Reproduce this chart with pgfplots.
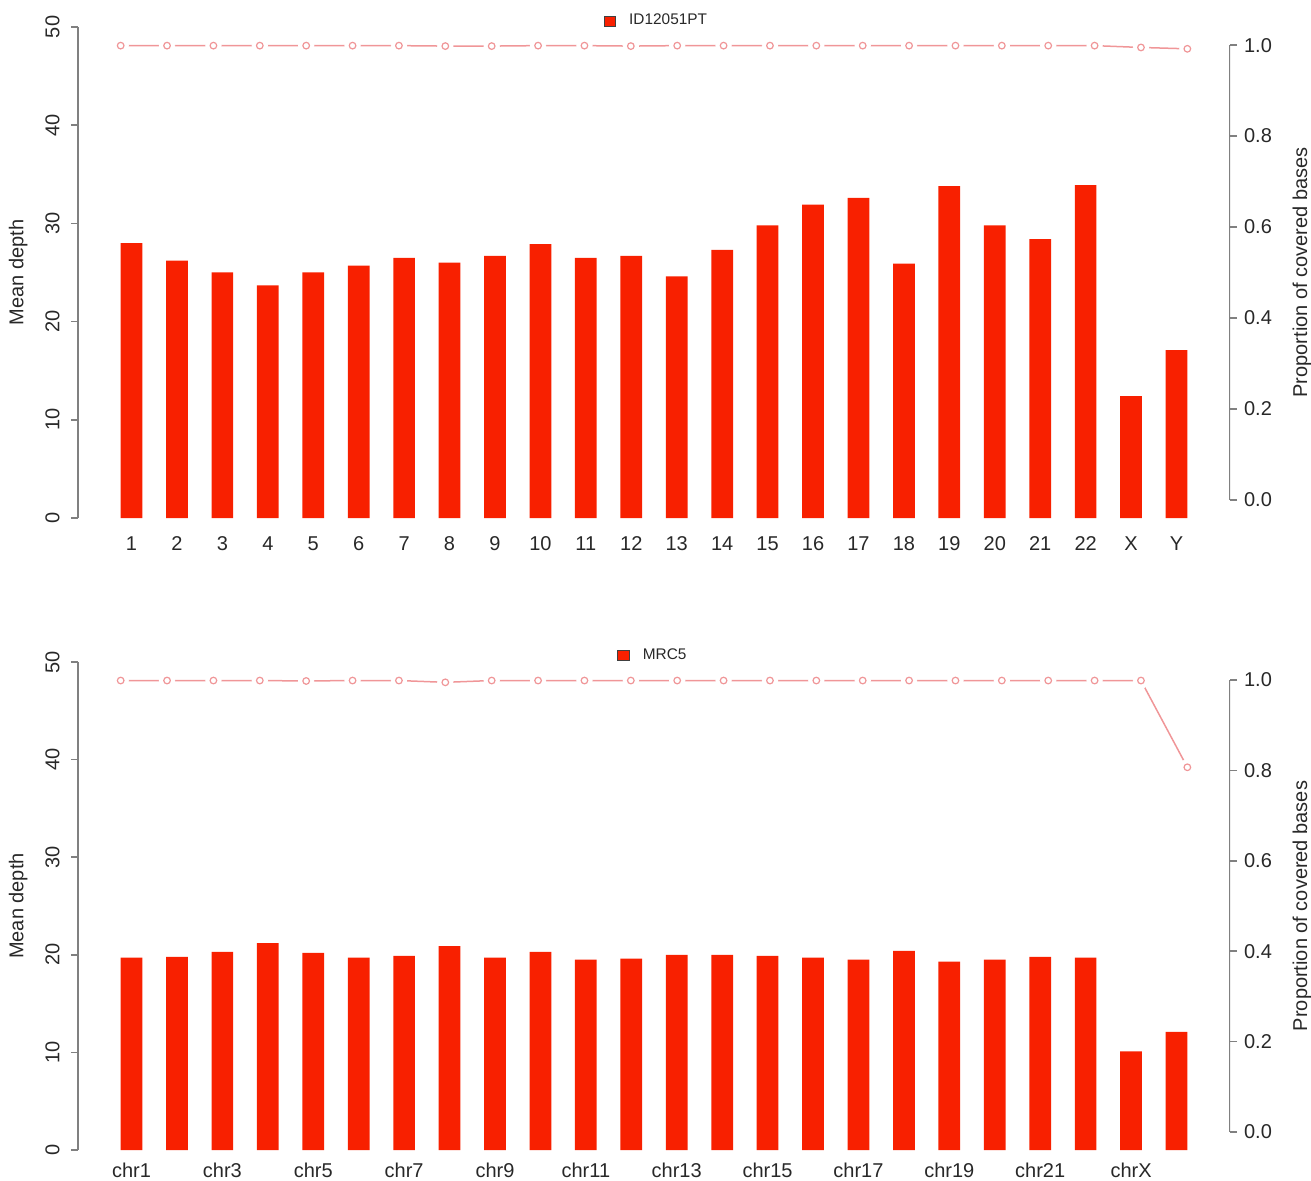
\documentclass[border=0pt]{standalone}
\usepackage{fontspec}
\setmainfont{Liberation Sans}
\usepackage{pgfplots}
\pgfplotsset{compat=1.18}

\definecolor{barred}{RGB}{248,32,0}
\definecolor{linepink}{RGB}{240,150,152}
\definecolor{axgray}{RGB}{128,128,128}
\definecolor{txt}{RGB}{40,40,40}

\pgfplotsset{
  baraxis/.style={
    scale only axis, width=576pt,
    /pgf/number format/assume math mode=true,
    xmin=-1.178, xmax=24.178, ymin=0, ymax=50,
    axis y line*=left, axis x line*=bottom,
    x axis line style={draw=none},
    y axis line style={-, draw=axgray, line width=0.8pt},
    xtick style={draw=none},
    ytick style={draw=axgray, line width=0.8pt},
    tick align=outside, major tick length=3.5pt,
    ytick={0,10,20,30,40,50},
    yticklabels={0,10,20,30,40,50},
    yticklabel style={rotate=90, anchor=south, font=\fontsize{10}{12}\selectfont, text=txt},
    yticklabel shift=2.2pt,
    xticklabel style={font=\fontsize{10}{12}\selectfont, text=txt},
    ylabel={Mean depth},
    every axis y label/.style={at={(axis description cs:-0.052,0.5)}, rotate=90, anchor=center, font=\fontsize{10}{12}\selectfont, text=txt},
    legend style={at={(axis description cs:0.503,1.012)}, anchor=center, draw=none, fill=none, font=\fontsize{7.7}{9}\selectfont, text=txt, inner sep=0pt},
    legend image code/.code={\path[draw=none, fill=none] (0pt,-0.05pt) rectangle (10.5pt,0.05pt);\path[fill=barred, draw=black!75, line width=0.4pt] (0pt,-2.6pt) rectangle (5.6pt,2.6pt);},
  },
  lineaxis/.style={
    scale only axis, width=576pt,
    /pgf/number format/assume math mode=true,
    xmin=0.08, xmax=24.92, ymin=-0.04, ymax=1.04,
    axis x line=none, axis y line*=right,
    y axis line style={draw=none},
    ytick={0,0.2,0.4,0.6,0.8,1},
    yticklabels={0.0,0.2,0.4,0.6,0.8,1.0},
    ytick style={draw=axgray, line width=0.8pt},
    tick align=outside, major tick length=3.5pt,
    yticklabel style={font=\fontsize{10}{12}\selectfont, text=txt},
    ylabel={Proportion of covered bases},
    every axis y label/.style={at={(axis description cs:1.0625,0.5)}, rotate=90, anchor=center, font=\fontsize{10}{12}\selectfont, text=txt},
  },
  pline/.style={linepink, line width=0.75pt, mark=none},
  pmask/.style={white, only marks, mark=*, mark size=3.85pt},
  ptmarks/.style={linepink, only marks, mark=o, mark size=1.65pt, mark options={line width=0.6pt}},
}

\pgfplotstableread{
x depth
0 28.0
1 26.2
2 25.0
3 23.7
4 25.0
5 25.7
6 26.5
7 26.0
8 26.7
9 27.9
10 26.5
11 26.7
12 24.6
13 27.3
14 29.8
15 31.9
16 32.6
17 25.9
18 33.8
19 29.8
20 28.4
21 33.9
22 12.4
23 17.1
}\topbars

\pgfplotstableread{
x prop
1 0.999
2 0.999
3 0.999
4 0.999
5 0.999
6 0.999
7 0.999
8 0.998
9 0.998
10 0.999
11 0.999
12 0.998
13 0.999
14 0.999
15 0.999
16 0.999
17 0.999
18 0.999
19 0.999
20 0.999
21 0.999
22 0.999
23 0.995
24 0.992
}\topline

\pgfplotstableread{
x depth
0 19.7
1 19.8
2 20.3
3 21.2
4 20.2
5 19.7
6 19.9
7 20.9
8 19.7
9 20.3
10 19.5
11 19.6
12 20.0
13 20.0
14 19.9
15 19.7
16 19.5
17 20.4
18 19.3
19 19.5
20 19.8
21 19.7
22 10.1
23 12.1
}\botbars

\pgfplotstableread{
x prop
1 0.999
2 0.999
3 0.999
4 0.999
5 0.998
6 0.999
7 0.999
8 0.995
9 0.999
10 0.999
11 0.999
12 0.999
13 0.999
14 0.999
15 0.999
16 0.999
17 0.999
18 0.999
19 0.999
20 0.999
21 0.999
22 0.999
23 0.999
24 0.807
}\botline

\begin{document}
\begin{tikzpicture}
\useasboundingbox (0,0) rectangle (655.5pt,590pt);

% ---------------- top panel ----------------
\begin{axis}[baraxis, at={(39pt,331pt)}, anchor=south west, height=245.5pt,
  xtick={0,...,23},
  xticklabels={1,2,3,4,5,6,7,8,9,10,11,12,13,14,15,16,17,18,19,20,21,22,X,Y},
  xticklabel shift=2.2pt]
\addplot[ybar, bar width=0.478, bar shift=0pt, fill=barred, draw=none] table[x=x, y=depth] {\topbars};
\addlegendentry{ID12051PT}
\end{axis}
\begin{axis}[lineaxis, at={(39pt,331pt)}, anchor=south west, height=245.5pt]
\draw[axgray, line width=0.8pt] ({rel axis cs:1,0} |- {axis cs:1,0}) -- ({rel axis cs:1,0} |- {axis cs:1,1});
\addplot[pline] table[x=x, y=prop] {\topline};
\addplot[pmask] table[x=x, y=prop] {\topline};
\addplot[ptmarks] table[x=x, y=prop] {\topline};
\end{axis}

% ---------------- bottom panel ----------------
\begin{axis}[baraxis, at={(39pt,15pt)}, anchor=south west, height=244pt,
  xtick={0,2,...,22},
  xticklabels={chr1,chr3,chr5,chr7,chr9,chr11,chr13,chr15,chr17,chr19,chr21,chrX},
  xticklabel shift=-0.3pt,
  legend style={at={(axis description cs:0.5,1.013)}}]
\addplot[ybar, bar width=0.478, bar shift=0pt, fill=barred, draw=none] table[x=x, y=depth] {\botbars};
\addlegendentry{MRC5}
\end{axis}
\begin{axis}[lineaxis, at={(39pt,15pt)}, anchor=south west, height=244pt]
\draw[axgray, line width=0.8pt] ({rel axis cs:1,0} |- {axis cs:1,0}) -- ({rel axis cs:1,0} |- {axis cs:1,1});
\addplot[pline] table[x=x, y=prop] {\botline};
\addplot[pmask] table[x=x, y=prop] {\botline};
\addplot[ptmarks] table[x=x, y=prop] {\botline};
\end{axis}
\end{tikzpicture}
\end{document}
